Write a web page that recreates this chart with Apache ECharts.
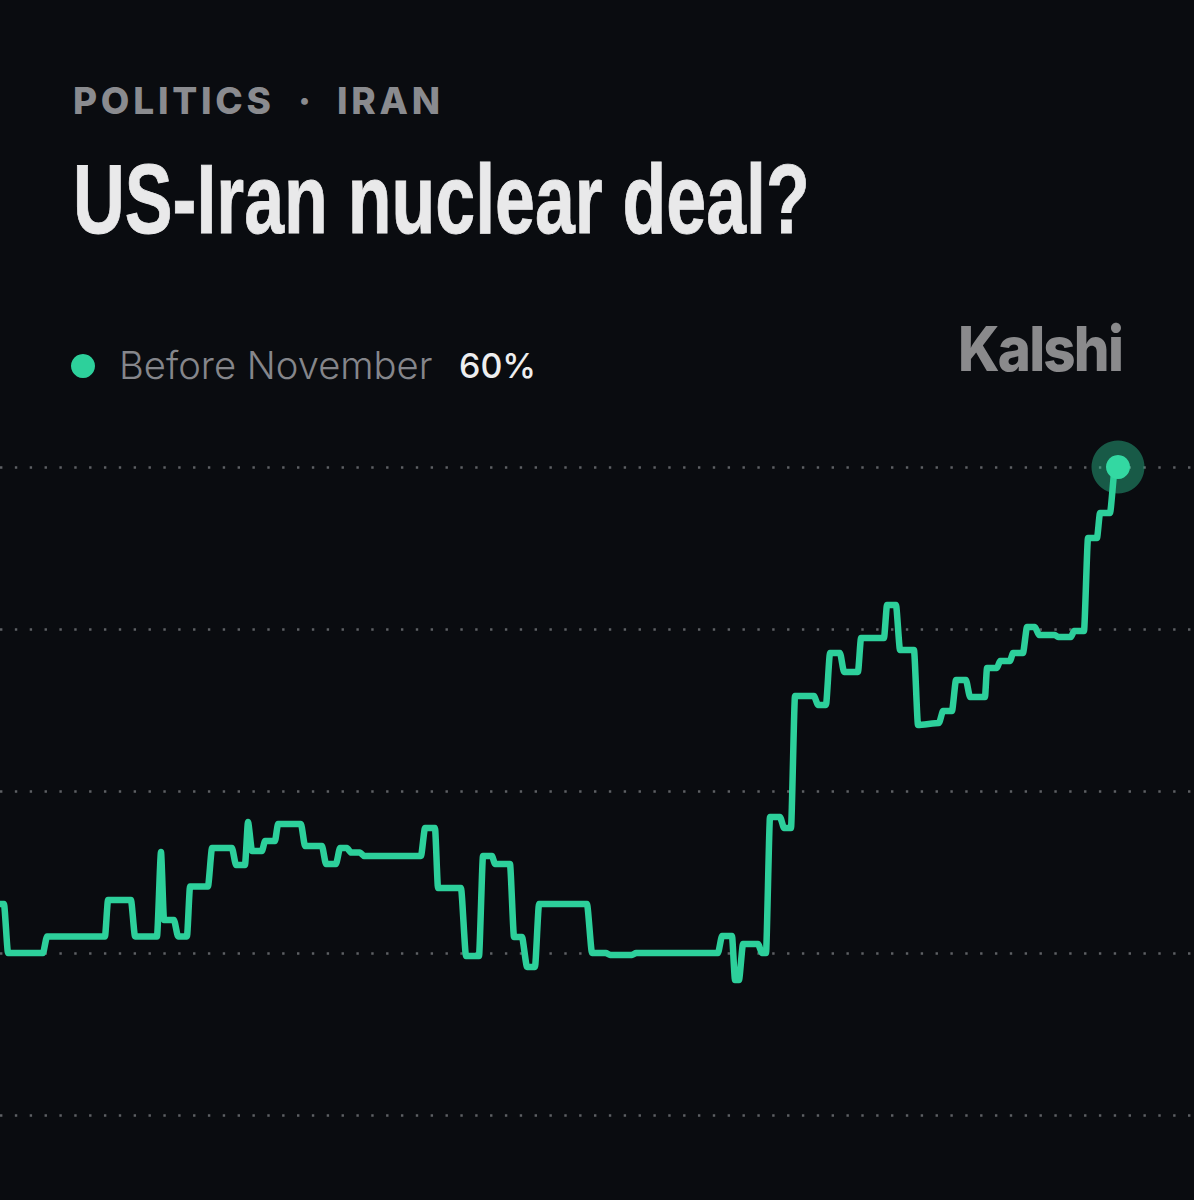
<!DOCTYPE html>
<html><head><meta charset="utf-8">
<style>
html,body{margin:0;padding:0;background:#0a0c10;}
#c{width:1194px;height:1200px;}
#c text[style*="37px"]{letter-spacing:3.75px;}
#c text[style*="62px"]{letter-spacing:-2px;}
</style>
<script src="https://cdn.jsdelivr.net/npm/echarts@6/dist/echarts.min.js"></script>
</head><body><div id="c"></div>
<script>
const kicker = ['POLITICS', '·', 'IRAN'];
const headline = 'US-Iran nuclear deal?';
const seriesName = 'Before November';
const latestLabel = '60%';
const brand = 'Kalshi';
const yTicks = [20, 30, 40, 50, 60];
const timeIndex = [0,4,8,43,47,105,108,131,135,157,161,164,174,178,187,190,208,212,232,236,245,248,252,262,265,275,278,301,305,322,326,336,340,347,351,360,364,421,425,435,438,461,466,479,483,492,495,510,514,522,527,535,539,587,592,606,610,632,636,718,722,732,735,739,743,758,762,766,770,780,784,791,795,814,818,826,830,840,844,858,861,884,887,896,900,914,918,939,943,952,956,966,970,985,987,997,1000,1010,1013,1023,1027,1035,1039,1055,1058,1071,1074,1084,1088,1097,1100,1110,1115,1118];
const chance = [33.02,33.02,30,30,31.02,31.02,33.27,33.27,31.02,31.02,36.23,32.04,32.04,31.02,31.02,34.1,34.1,36.48,36.48,35.43,35.43,38.09,36.3,36.3,36.91,36.91,37.96,37.96,36.6,36.6,35.49,35.49,36.48,36.48,36.2,36.2,35.99,35.99,37.72,37.72,34.01,34.01,29.81,29.81,35.99,35.99,35.49,35.49,30.99,30.99,29.14,29.14,33.02,33.02,30,30,29.88,29.88,30,30,31.05,31.05,28.33,28.33,30.56,30.56,30,30,38.4,38.4,37.72,37.72,45.86,45.86,45.31,45.31,48.52,48.52,47.35,47.35,49.44,49.44,51.48,51.48,48.7,48.7,44.07,44.2,44.94,44.94,46.85,46.85,45.8,45.8,47.59,47.59,48.02,48.02,48.52,48.52,50.12,50.12,49.63,49.63,49.51,49.51,49.88,49.88,55.62,55.62,57.16,57.16,60,60];

const GREEN = '#2dd09b';
const line = timeIndex.map((t, i) => [t, chance[i]]);
const last = line[line.length - 1];
const chart = echarts.init(document.getElementById('c'), null, {renderer: 'svg'});
const T = (x, y, text, font, fill, extra) => ({type: 'text', silent: true, x, y, ...(extra || {}), style: {text, fill, textVerticalAlign: 'middle', ...font}});
chart.setOption({
  animation: false,
  backgroundColor: '#0a0c10',
  grid: {left: 0, right: 0, top: 467, height: 648},
  xAxis: {type: 'value', min: 0, max: 1194, show: false},
  yAxis: {
    type: 'value', min: yTicks[0], max: yTicks[yTicks.length - 1], interval: 10,
    axisLine: {show: false}, axisTick: {show: false}, axisLabel: {show: false},
    splitLine: {show: true, lineStyle: {color: '#5e6064', width: 2.5, type: [2.4, 12.45]}}
  },
  series: [
    {type: 'line', name: seriesName, data: line, showSymbol: false, symbol: 'none', clip: false, z: 3,
      smooth: 0.2, smoothMonotone: 'x',
      lineStyle: {color: GREEN, width: 6.5, join: 'round', cap: 'round'}},
    {type: 'scatter', data: [last], symbol: 'circle', symbolSize: 53, clip: false, z: 2, silent: true,
      itemStyle: {color: GREEN, opacity: 0.4}},
    {type: 'scatter', data: [last], symbol: 'circle', symbolSize: 24, clip: false, z: 4, silent: true,
      itemStyle: {color: '#33d8a2', opacity: 1}}
  ],
  graphic: {elements: [
    T(73, 100, kicker[0], {font: '800 37px Inter'}, '#8a8b8f'),
    T(298, 100, kicker[1], {font: '800 37px Inter'}, '#8a8b8f'),
    T(337, 100, kicker[2], {font: '800 37px Inter'}, '#8a8b8f'),
    T(73, 199, headline, {font: 'bold 99px "Liberation Sans"', stroke: '#e9e9ea', lineWidth: 0.9}, '#e9e9ea', {scaleX: 0.724, originX: 0}),
    {type: 'circle', silent: true, shape: {cx: 83, cy: 366, r: 12}, style: {fill: GREEN}},
    T(119, 365, seriesName, {font: '300 38.2px Inter'}, '#85868b'),
    T(459, 365, latestLabel, {font: '500 34px Inter'}, '#eeeeef'),
    T(958, 349, brand, {font: '800 62px Inter'}, '#8a8a8c', {scaleX: 0.91, originX: 0})
  ]}
});
</script></body></html>
